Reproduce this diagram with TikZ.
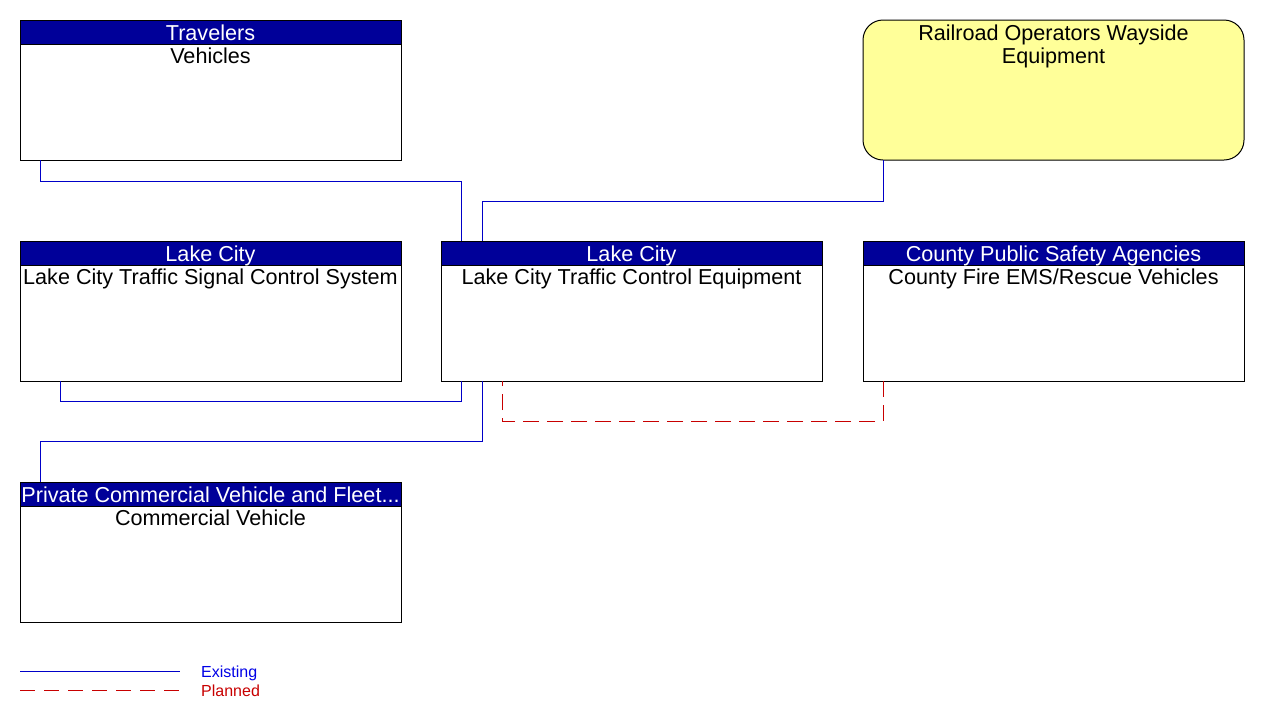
\documentclass[tikz,border=0pt]{standalone}
\usepackage{fontspec}
\setmainfont{Liberation Sans}
\usetikzlibrary{calc}
\definecolor{hdr}{RGB}{0,0,153}
\definecolor{ryel}{RGB}{255,255,153}
\definecolor{existc}{RGB}{0,0,200}
\definecolor{planc}{RGB}{200,0,0}
\definecolor{existt}{RGB}{0,0,230}
\begin{document}
\begin{tikzpicture}[x=1pt,y=-1pt,
  box/.style={draw=black, line width=1pt, fill=white, minimum width=381pt, minimum height=140pt, anchor=north west, inner sep=0pt, outer sep=0pt},
  railbox/.style={box, fill=ryel, rounded corners=20pt},
  hdrbox/.style={draw=black, line width=1pt, fill=hdr, minimum width=381pt, minimum height=24pt, anchor=north west, inner sep=0pt, outer sep=0pt},
  hdrtext/.style={text=white, font=\fontsize{21.6}{24}\selectfont, anchor=base, inner sep=0pt},
  bodytext/.style={text=black, font=\fontsize{21.6}{23}\selectfont, anchor=base, inner sep=0pt},
  legtext/.style={font=\fontsize{16}{18}\selectfont, anchor=base west, inner sep=0pt},
  exist/.style={draw=existc, line width=1pt},
  plan/.style={draw=planc, line width=1pt, dash pattern=on 16pt off 8pt}]
\useasboundingbox (0,0) rectangle (1261,721);
% boxes
\node[box] (veh) at (20,20) {};
\node[hdrbox] (vehh) at (20,20) {};
\node[hdrtext] (vehht) at (210.5,40) {Travelers};
\node[bodytext] (vehbt) at (210.5,63) {Vehicles};

\node[railbox] (rail) at (863,20) {};
\node[bodytext] (railt1) at (1053.5,40) {Railroad Operators Wayside};
\node[bodytext] (railt2) at (1053.5,63) {Equipment};

\node[box] (sig) at (20,241) {};
\node[hdrbox] (sigh) at (20,241) {};
\node[hdrtext] (sight) at (210.5,261) {Lake City};
\node[bodytext] (sigbt) at (210.5,284) {Lake City Traffic Signal Control System};

\node[box] (tce) at (441,241) {};
\node[hdrbox] (tceh) at (441,241) {};
\node[hdrtext] (tceht) at (631.5,261) {Lake City};
\node[bodytext] (tcebt) at (631.5,284) {Lake City Traffic Control Equipment};

\node[box] (cty) at (863,241) {};
\node[hdrbox] (ctyh) at (863,241) {};
\node[hdrtext] (ctyht) at (1053.5,261) {County Public Safety Agencies};
\node[bodytext] (ctybt) at (1053.5,284) {County Fire EMS/Rescue Vehicles};

\node[box] (com) at (20,482) {};
\node[hdrbox] (comh) at (20,482) {};
\node[hdrtext] (comht) at (210.5,502) {Private Commercial Vehicle and Fleet...};
\node[bodytext] (combt) at (210.5,525) {Commercial Vehicle};

% connectors
\draw[exist] ([xshift=20pt]veh.south west) -- ++(0,21) -| ([xshift=20pt]tce.north west);
\draw[exist] ([xshift=20pt]rail.south west) -- ++(0,41) -| ([xshift=41pt]tce.north west);
\draw[exist] ([xshift=40pt]sig.south west) -- ++(0,20) -| ([xshift=20pt]tce.south west);
\draw[exist] ([xshift=20pt]com.north west) -- ++(0,-41) -| ([xshift=41pt]tce.south west);
\draw[plan] ([xshift=20pt]cty.south west) -- ++(0,40) -| ([xshift=61pt]tce.south west);

% legend
\coordinate (le1) at (20,671);
\coordinate (le2) at (180,671);
\coordinate (lp1) at (20,690);
\coordinate (lp2) at (180,690);
\draw[exist] (le1) -- (le2);
\draw[plan, dash pattern=on 15pt off 9pt] (lp1) -- (lp2);
\node[legtext, text=existt] (lext) at (201,677) {Existing};
\node[legtext, text=planc] (lpt) at (201,696) {Planned};
\end{tikzpicture}
\end{document}
